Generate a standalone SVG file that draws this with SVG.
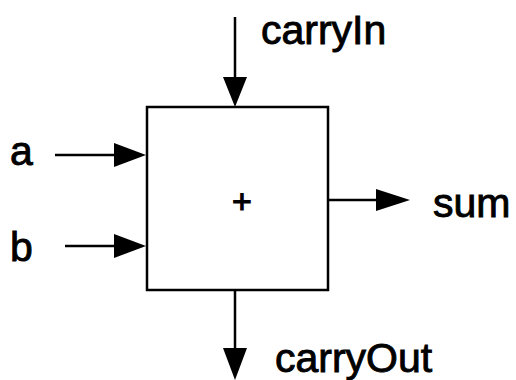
<svg xmlns="http://www.w3.org/2000/svg" width="516" height="380" viewBox="0 0 516 380">
<defs>
<style>
.ln{stroke:#000;stroke-width:2.5;fill:none}
.ah{fill:#000}
.t{font-family:"Liberation Sans",Arial,sans-serif;font-size:41px;fill:#000;stroke:#000;stroke-width:0.9}
.p{font-family:"Liberation Sans",Arial,sans-serif;font-size:34px;fill:#000;stroke:#000;stroke-width:1.1}
</style>
</defs>
<rect width="516" height="380" fill="#fff"/>
<g id="adder">
<rect x="147" y="107" width="181" height="183" class="ln"/>
<text x="242" y="213" class="p" text-anchor="middle">+</text>
</g>
<g id="connectors">
<line x1="235" y1="17" x2="235" y2="80" class="ln"/>
<polygon points="223,77 247,77 235,107" class="ah"/>
<line x1="55" y1="155" x2="117" y2="155" class="ln"/>
<polygon points="114,143 114,167 146,155" class="ah"/>
<line x1="65" y1="246" x2="117" y2="246" class="ln"/>
<polygon points="114,234 114,258 146,246" class="ah"/>
<line x1="328" y1="200" x2="380" y2="200" class="ln"/>
<polygon points="376,189 376,211 410,200" class="ah"/>
<line x1="235" y1="290" x2="235" y2="352" class="ln"/>
<polygon points="223,348 247,348 235,380" class="ah"/>
</g>
<g id="labels">
<text x="261" y="44" class="t">carryIn</text>
<text x="10" y="165" class="t">a</text>
<text x="10" y="261" class="t">b</text>
<text x="433" y="217" class="t">sum</text>
<text x="275" y="372" class="t">carryOut</text>
</g>
</svg>
